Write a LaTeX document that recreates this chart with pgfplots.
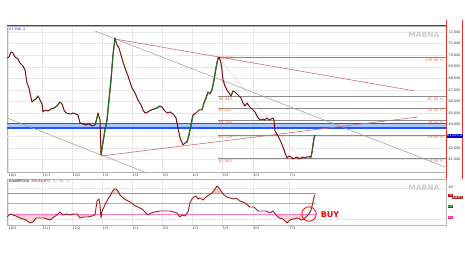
\documentclass[border=0pt]{standalone}
\usepackage{fontspec}
\setmainfont{DejaVu Sans}
\usepackage{pgfplots}
\pgfplotsset{compat=1.18}
\definecolor{candle}{HTML}{7A1010}
\definecolor{candleg}{HTML}{1F6E1F}
\definecolor{fibc}{HTML}{F0704A}
\definecolor{trendred}{HTML}{C77070}
\definecolor{bandf}{HTML}{A9C8FF}
\definecolor{bandl}{HTML}{2255FF}
\definecolor{rsic}{HTML}{9E1B1B}
\definecolor{lseventy}{HTML}{E07A7A}
\definecolor{lfifty}{HTML}{8CC98C}
\definecolor{lthirty}{HTML}{FF77C8}
\definecolor{fthirty}{HTML}{F2D3D3}
\definecolor{fseventy}{HTML}{EAD3C0}
\definecolor{frameR}{HTML}{E03030}
\definecolor{fibline}{HTML}{8A8A8A}
\newcommand{\tk}{\fontsize{3.4}{4}\selectfont}
\begin{document}
\begin{tikzpicture}[x=1pt,y=1pt]
\path[use as bounding box] (0,0) rectangle (465,256);

% ---------------- main price panel ----------------
\begin{axis}[
  at={(7pt,84pt)}, anchor=south west,
  scale only axis, width=439pt, height=146pt,
  xmin=7, xmax=446, ymin=59931, ymax=72517,
  clip mode=individual,
  axis line style={draw=gray!60, line width=0.5pt},
  xtick={8,42,72,102,132,162,192,222,253,289},
  xticklabels={10/1,11/1,12/2,1/3,2/1,3/1,4/1,5/3,6/1,7/1},
  ytick={61000,62000,64000,65000,66000,67000,68000,69000,70000,71000,72000},
  extra y ticks={63000}, extra y tick labels={},
  extra y tick style={grid=major},
  scaled y ticks=false,
  yticklabel pos=right,
  major tick length=0pt,
  grid=major, major grid style={gray!18, line width=0.4pt},
  tick label style={font=\tk, text=black!80},
  xticklabel style={anchor=north west, inner sep=0pt, yshift=-1.5pt, xshift=0.5pt},
  yticklabel style={anchor=west, inner sep=0pt, xshift=2.5pt, /pgf/number format/.cd, fixed, 1000 sep={,}, precision=0, assume math mode=true},
]
% blue band
\addplot[fill=bandf, draw=none] coordinates {(7,63725) (446,63725) (446,64100) (7,64100)} -- cycle;
\addplot[bandl, line width=1.2pt] coordinates {(7,64100) (446,64100)};
\addplot[bandl, line width=1.2pt] coordinates {(7,63725) (446,63725)};
% fibonacci levels
\addplot[fibline, line width=0.9pt] coordinates {(218,69789) (446,69789)};
\addplot[fibline, line width=0.9pt] coordinates {(218,66444) (446,66444)};
\addplot[fibline, line width=0.9pt] coordinates {(218,65417) (446,65417)};
\addplot[fibline, line width=0.9pt] coordinates {(218,64390) (446,64390)};
\addplot[fibline, line width=0.9pt] coordinates {(218,63118) (446,63118)};
\addplot[fibline, line width=0.9pt] coordinates {(218,61065) (446,61065)};
\addplot[fibc!70, densely dotted, line width=0.6pt] coordinates {(219,69789) (300,61065)};
% trend lines
\addplot[gray!80, line width=0.5pt] coordinates {(95,72086) (445,60362)};
\addplot[gray!80, line width=0.5pt] coordinates {(7,64586) (150,59746)};
\addplot[trendred, line width=0.6pt] coordinates {(115,71397) (415,66914)};
\addplot[trendred, line width=0.6pt] coordinates {(101,61310) (418,64672)};
% price
\addplot[candle, line width=1.0pt, line join=round] coordinates {
(7,69760) (9,69845) (11,70276) (13,70190) (15,69845) (18,69673) (20,69328) (23,69069)
(25,68724) (27,67604) (29,67173) (30,66742) (32,65966) (34,66138) (36,66224) (38,66483)
(40,66138) (42,65794) (43,65104) (45,65276) (48,65190) (51,65362) (54,65449) (57,65621)
(60,65966) (62,65794) (64,65276) (66,65018) (70,64932) (73,65018) (76,64932) (78,64845)
(80,64156) (83,64070) (86,63983) (89,64070) (92,63897) (95,63983) (97,64586) (98,65018)
(100,64414) (101,61397) (103,62518) (105,63552) (107,64414) (109,66138) (111,67862)
(113,70017) (115,71483) (117,70879) (119,70621) (121,70017) (123,69414) (125,68897)
(128,68207) (130,67690) (132,67173) (135,66742) (138,66138) (141,65707) (143,65276)
(145,65018) (148,65104) (151,65276) (154,65362) (157,65449) (160,65621) (162,65535)
(164,65276) (167,65018) (170,65104) (173,64932) (176,64586) (178,63725) (180,62863)
(183,62259) (185,62431) (187,62518) (189,63121) (191,63983) (193,64845) (196,65018)
(199,65276) (202,65276) (204,65880) (206,66311) (208,66828) (210,66656) (212,67000)
(214,67862) (216,68897) (218,69759) (219,69845) (221,69328) (222,68724) (223,67862)
(225,67345) (227,67000) (229,66742) (231,66483) (233,66914) (235,66828) (237,66656)
(239,66483) (241,66311) (243,65880) (245,65621) (247,65880) (249,65621) (251,65449)
(253,65276) (255,65104) (257,64759) (259,64500) (261,64414) (263,64500) (265,64414)
(267,64586) (269,64414) (271,64500) (273,64586) (274,64414) (275,63466) (277,63207)
(279,62863) (281,62518) (283,62087) (285,61569) (287,61138) (289,61310) (291,61224)
(293,61065) (295,61138) (297,61224) (299,61065) (301,61138) (303,61224) (305,61138)
(307,61224) (309,61224) (311,61224) (312,61655) (313,62259) (314,62863) (315,63121)
};
\addplot[candleg, line width=1.1pt, unbounded coords=jump] coordinates {
(34,66138) (36,66224) (38,66483) (nan,nan)
(54,65449) (57,65621) (60,65966) (nan,nan)
(95,63983) (97,64586) (98,65018) (nan,nan)
(101,61397) (103,62518) (105,63552) (107,64414) (109,66138) (111,67862) (113,70017) (115,71483) (nan,nan)
(154,65362) (157,65449) (160,65621) (nan,nan)
(185,62431) (187,62518) (189,63121) (191,63983) (193,64845) (nan,nan)
(202,65276) (204,65880) (206,66311) (208,66828) (nan,nan)
(210,66656) (212,67000) (214,67862) (216,68897) (218,69759) (nan,nan)
(231,66483) (233,66914) (nan,nan)
(309,61224) (311,61224) (312,61655) (313,62259) (314,62863) (315,63121)
};
% fib labels
\begin{scope}[every node/.style={font=\fontsize{3.8}{4}\selectfont, text=fibc, inner sep=0.6pt}]
\node[anchor=north west] at (axis cs:219,69950) {69,789};
\node[anchor=north west] at (axis cs:218,66444) {66,444};
\node[anchor=north west] at (axis cs:218,65417) {65,417};
\node[anchor=north west] at (axis cs:218,64390) {64,390};
\node[anchor=north west] at (axis cs:218,63118) {63,118};
\node[anchor=north west] at (axis cs:218,61065) {61,065};
\node[anchor=north east] at (axis cs:444,69789) {100.00 \%};
\node[anchor=north east] at (axis cs:444,66444) {61.80 \%};
\node[anchor=north east] at (axis cs:444,65417) {50.00 \%};
\node[anchor=north east] at (axis cs:444,64390) {38.20 \%};
\node[anchor=north east] at (axis cs:444,63118) {23.60 \%};
\node[anchor=north east] at (axis cs:444,61065) {0.00 \%};
\end{scope}
\end{axis}

% ---------------- RSI panel ----------------
\begin{axis}[
  at={(7pt,31pt)}, anchor=south west,
  scale only axis, width=439pt, height=46pt,
  xmin=7, xmax=446, ymin=9, ymax=96.7,
  clip mode=individual,
  axis line style={draw=gray!60, line width=0.5pt},
  xtick={8,42,72,102,132,162,192,222,253,289},
  xticklabels={10/1,11/1,12/2,1/3,2/1,3/1,4/1,5/3,6/1,7/1},
  ytick={20,80}, yticklabels={,80},
  yticklabel pos=right,
  major tick length=0pt,
  grid=major, major grid style={gray!18, line width=0.4pt},
  tick label style={font=\tk, text=black!80},
  xticklabel style={anchor=north west, inner sep=0pt, yshift=-1.5pt, xshift=0.5pt},
  yticklabel style={anchor=west, inner sep=0pt, xshift=2.5pt},
]
% shaded zones below 30 and above 70
\addplot[fill=fthirty, draw=none] coordinates {(7,30) (7,24.3) (10,30) (13,28.1) (16,26.2) (20,22.4) (23,20.5) (26,18.6) (30,12.9) (33,14.8)
(36,22.4) (40,22.4) (44,22.4) (47,20.5) (50,18.6) (54,24.3) (57,28.1) (58,30) (62,30) (63,28.1)
(67,30) (70,28.1) (74,30) (77,30) (80,22.4) (84,24.3) (88,24.3) (92,26.2) (95,28.1) (95.14,30)} -- cycle;
\addplot[fill=fthirty, draw=none] coordinates {(100.69,30) (101,22.4) (101.57,30)} -- cycle;
\addplot[fill=fthirty, draw=none] coordinates {(147,30) (148,28.1) (149.5,30)} -- cycle;
\addplot[fill=fthirty, draw=none] coordinates {(177.75,30) (180,24.3) (182,28.1) (185,26.2) (186.5,30)} -- cycle;
\addplot[fill=fthirty, draw=none] coordinates {(275.25,30) (276,28.1) (279,22.4) (283,20.5) (287,12.9) (290,18.6) (294,20.5) (298,22.4) (301,18.6) (304,20.5) (307,26.2) (309,30)} -- cycle;
\addplot[fill=fseventy, draw=none] coordinates {(111.5,70) (112,71.9) (114,77.6) (116,77.6) (118,73.8) (119,70)} -- cycle;
\addplot[fill=fseventy, draw=none] coordinates {(212,70) (215,77.6) (217,83.3) (219,79.5) (221,73.8) (222.5,70)} -- cycle;
\addplot[lseventy, line width=0.6pt] coordinates {(7,70) (316,70)};
\addplot[lfifty, line width=1.3pt] coordinates {(7,50) (316,50)};
\addplot[lthirty, line width=0.6pt] coordinates {(7,30) (316,30)};
\addplot[rsic, line width=0.9pt, line join=round] coordinates {
(7,24.3) (10,30) (13,28.1) (16,26.2) (20,22.4) (23,20.5) (26,18.6) (30,12.9) (33,14.8)
(36,22.4) (40,22.4) (44,22.4) (47,20.5) (50,18.6) (54,24.3) (57,28.1) (60,33.8) (63,28.1)
(67,30) (70,28.1) (74,30) (77,30) (80,22.4) (84,24.3) (88,24.3) (92,26.2) (95,28.1)
(97,54.8) (99,58.6) (100,47.1) (101,22.4) (102,35.7) (104,43.3) (106,51) (108,58.6)
(110,64.3) (112,71.9) (114,77.6) (116,77.6) (118,73.8) (120,66.2) (123,60.5) (126,56.7)
(130,52.9) (134,47.1) (138,43.3) (142,39.5) (145,33.8) (148,28.1) (151,31.9) (155,33.8)
(160,35.7) (165,35.7) (170,35.7) (174,33.8) (177,31.9) (180,24.3) (182,28.1) (185,26.2)
(188,33.8) (190,51) (192,58.6) (194,62.4) (196,64.3) (198,58.6) (200,60.5) (203,56.7)
(206,62.4) (209,66.2) (212,70) (215,77.6) (217,83.3) (219,79.5) (221,73.8) (224,66.2)
(227,62.4) (230,60.5) (233,58.6) (236,60.5) (240,54.8) (245,51) (250,43.3) (254,43.3)
(258,35.7) (262,35.7) (266,35.7) (270,31.9) (273,35.7) (276,28.1) (279,22.4) (283,20.5)
(287,12.9) (290,18.6) (294,20.5) (298,22.4) (301,18.6) (304,20.5) (307,26.2) (309,30)
(311,37.6) (313,52.9) (314,62.4) (315,66.2)
};
\end{axis}

% ---------------- decorations ----------------
\draw[black!70, line width=1pt] (7,230) -- (446,230);
\draw[frameR, line width=0.6pt] (446,236) -- (446,77);
\draw[frameR, line width=0.6pt] (462,236) -- (462,77);
\node[anchor=west, font=\tk, text=blue!80, inner sep=0pt] at (9,227) {63,996 ,2};
\node[font=\bfseries\fontsize{7.5}{8}\selectfont, text=gray!40] at (424,221) {MABNA};
\node[font=\bfseries\fontsize{7.5}{8}\selectfont, text=gray!40] at (424,68) {MABNA};
\node[anchor=west, fill=blue!85!black, text=white, font=\tk, inner sep=0.5pt] at (446.5,120.4) {63,071.4};
% RSI header
\node[anchor=west, font=\tk, inner sep=0pt] at (9,74.5) {AreaRSI(14)\ \ \textcolor{rsic}{RSI:64.671}\ \ \textcolor{lseventy}{70}\ \ \textcolor{lfifty!80!black}{50}\ \ \textcolor{lthirty}{30}};
% RSI right boxes
\node[anchor=west, fill=rsic!90, text=white, font=\tk, inner sep=0.5pt] at (452,58.5) {64.67};
\node[anchor=west, fill=red!65!black, text=white, font=\tk, inner sep=0.5pt] at (447.5,60.5) {70};
\node[anchor=west, fill=green!45!black, text=white, font=\tk, inner sep=0.5pt] at (447.5,49.3) {50};
\node[anchor=west, fill=magenta!90, text=white, font=\tk, inner sep=0.5pt] at (447.5,38.3) {30};
% BUY annotation
\draw[red, line width=0.8pt] (309,42) circle (7.2);
\node[font=\bfseries\fontsize{8}{9}\selectfont, text=red] at (330,41) {BUY};
\end{tikzpicture}
\end{document}
